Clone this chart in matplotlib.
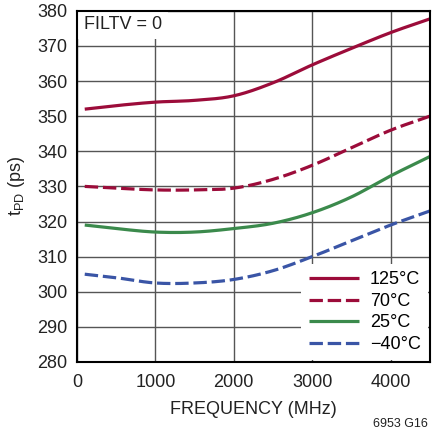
import matplotlib
matplotlib.use("Agg")
import matplotlib.pyplot as plt
import numpy as np

# tPD vs frequency
freq = [100, 500, 1000, 1500, 2000, 2500, 3000, 3500, 4000, 4500]
tpd_125 = [352.0, 353.0, 354.0, 354.5, 355.8, 359.5, 364.6, 369.3, 373.8, 377.7]
tpd_70 = [330.0, 329.5, 329.0, 329.0, 329.5, 332.0, 336.0, 341.0, 346.0, 350.0]
tpd_25 = [319.0, 318.0, 317.0, 317.0, 318.0, 319.5, 322.5, 327.0, 333.0, 338.5]
tpd_m40 = [305.0, 304.0, 302.5, 302.5, 303.5, 306.0, 310.0, 314.5, 319.0, 323.0]
labels = ["125°C", "70°C", "25°C", "\u221240°C"]

RED = "#9c0c3a"
GREEN = "#3b8a4c"
BLUE = "#3a55a6"

plt.rcParams["font.family"] = ["Liberation Sans", "DejaVu Sans"]
plt.rcParams["mathtext.fontset"] = "custom"
plt.rcParams["mathtext.rm"] = "Liberation Sans"

fig = plt.figure(figsize=(4.32, 4.33), dpi=100)
ax = fig.add_axes([0.178, 0.164, 0.817, 0.811])


def smooth(x, y, n=300):
    # cubic Hermite through the read points
    x = np.asarray(x, float)
    y = np.asarray(y, float)
    m = np.gradient(y, x)
    xs = np.linspace(x[0], x[-1], n)
    i = np.clip(np.searchsorted(x, xs) - 1, 0, len(x) - 2)
    h = x[i + 1] - x[i]
    t = (xs - x[i]) / h
    h00 = 2 * t**3 - 3 * t**2 + 1
    h10 = t**3 - 2 * t**2 + t
    h01 = -2 * t**3 + 3 * t**2
    h11 = t**3 - t**2
    return xs, h00 * y[i] + h10 * h * m[i] + h01 * y[i + 1] + h11 * h * m[i + 1]


series = [(tpd_125, RED, "-"), (tpd_70, RED, "--"),
          (tpd_25, GREEN, "-"), (tpd_m40, BLUE, "--")]
for (vals, col, ls), lab in zip(series, labels):
    xs, ys = smooth(freq, vals)
    ln, = ax.plot(xs, ys, color=col, lw=2.3, ls=ls, label=lab, zorder=4,
                  solid_capstyle="butt")
    if ls == "--":
        ln.set_dashes((4.2, 1.5))

ax.set_xlim(0, 4500)
ax.set_ylim(280, 380)
ax.set_xticks([0, 1000, 2000, 3000, 4000])
ax.set_yticks(range(280, 381, 10))
ax.grid(True, color="#555555", lw=1.0, zorder=1)
ax.set_axisbelow(True)
ax.tick_params(length=0, labelsize=13, colors="#222222")
ax.tick_params(axis="x", pad=9)
ax.tick_params(axis="y", pad=7)
for s in ax.spines.values():
    s.set_linewidth(1.5)
    s.set_color("black")
    s.set_zorder(5)

ax.set_xlabel("FREQUENCY (MHz)", fontsize=13, color="#222222", labelpad=7)
ax.set_ylabel(r"t$_\mathregular{PD}$ (ps)", fontsize=13, color="#222222", labelpad=7)

ax.text(0.02, 0.985, "FILTV = 0", transform=ax.transAxes, fontsize=13,
        va="top", ha="left", color="#222222", zorder=3,
        bbox=dict(facecolor="white", edgecolor="none", pad=4.5))

leg = ax.legend(loc="lower right", frameon=True, fontsize=13, handlelength=2.8,
                handletextpad=0.6, labelspacing=0.25, borderaxespad=0.1,
                borderpad=0.4)
leg.get_frame().set_edgecolor("none")
leg.get_frame().set_facecolor("white")
leg.get_frame().set_alpha(1)
leg.set_zorder(3)

fig.text(0.99, 0.008, "6953 G16", fontsize=9, ha="right", va="bottom", color="#222222")

fig.savefig("out.png", dpi=100)
